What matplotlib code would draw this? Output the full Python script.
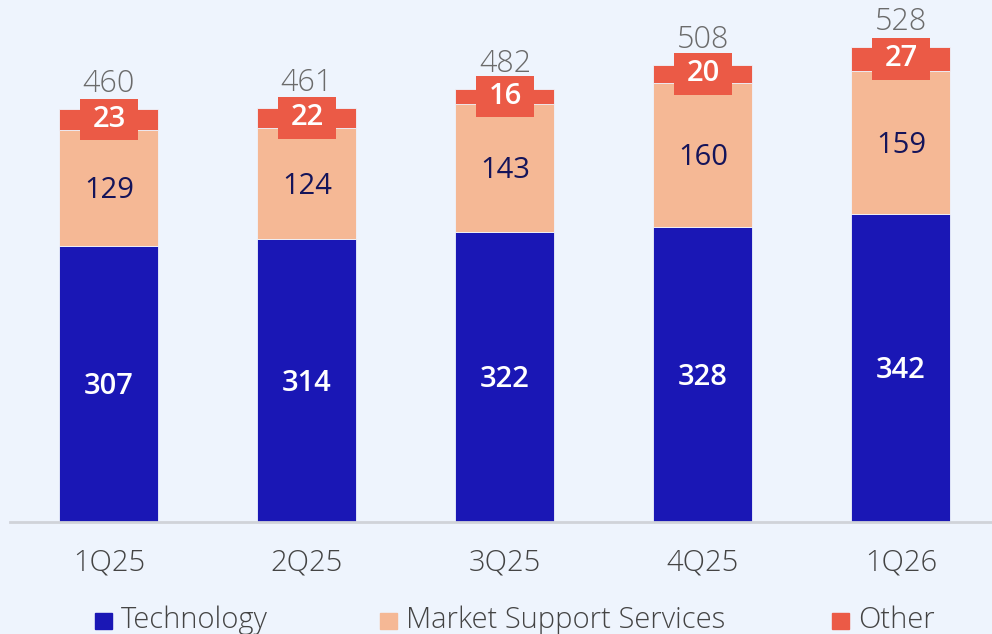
import matplotlib
matplotlib.use("Agg")
import matplotlib.pyplot as plt
from matplotlib.patches import Rectangle
import numpy as np

quarters = ["1Q25", "2Q25", "3Q25", "4Q25", "1Q26"]
technology = [307, 314, 322, 328, 342]
market_support = [129, 124, 143, 160, 159]
other = [23, 22, 16, 20, 27]
totals = [460, 461, 482, 508, 528]
series_names = ["Technology", "Market Support Services", "Other"]

BG = "#EEF4FD"
BLUE = "#1A17B5"
PEACH = "#F5B895"
RED = "#EB5A46"
NAVY = "#14145A"
GREY = "#6B6B6B"

plt.rcParams["font.family"] = ["Open Sans", "DejaVu Sans"]

fig = plt.figure(figsize=(9.92, 6.34), dpi=100, facecolor=BG)
ax = fig.add_axes([10 / 992, 1 - 522 / 634, 982 / 992, 522 / 634])
ax.set_facecolor(BG)

x = np.arange(len(quarters))
w = 0.5
tech = np.array(technology)
msup = np.array(market_support)
oth = np.array(other)

ax.bar(x, tech, width=w, color=BLUE, edgecolor=BG, linewidth=0.6)
ax.bar(x, msup, bottom=tech, width=w, color=PEACH, edgecolor=BG, linewidth=0.6)
ax.bar(x, oth, bottom=tech + msup, width=w, color=RED, edgecolor=BG, linewidth=0.6)

# red label boxes sitting on the "Other" segment
box_h = 46
mid_other = tech + msup + oth / 2
ax.bar(x, box_h, bottom=mid_other - box_h / 2, width=0.29, color=RED, zorder=3)

for i in range(len(quarters)):
    ax.text(x[i], tech[i] / 2 - 3, str(technology[i]), ha="center", va="center",
            color="white", fontsize=21, fontweight="semibold")
    ax.text(x[i], tech[i] + msup[i] / 2 - 3, str(market_support[i]), ha="center",
            va="center", color=NAVY, fontsize=21)
    ax.text(x[i], mid_other[i], str(other[i]), ha="center", va="center",
            color="white", fontsize=21, fontweight="semibold", zorder=4)
    ax.annotate(str(totals[i]), (x[i], tech[i] + msup[i] + oth[i]),
                xytext=(0, 6.5), textcoords="offset points", ha="center",
                va="bottom", color=GREY, fontsize=22, fontweight="light")

ax.set_xlim(-0.5, 4.46)
ax.set_ylim(0, 580)
ax.set_xticks(x)
ax.set_xticklabels(quarters, fontsize=21, color="#444444", fontweight="light")
ax.tick_params(axis="x", length=0, pad=19)
ax.set_yticks([])
for s in ["top", "right", "left"]:
    ax.spines[s].set_visible(False)
ax.spines["bottom"].set_color("#D0D3D9")
ax.spines["bottom"].set_linewidth(2)

# legend along the bottom
colors = [BLUE, PEACH, RED]
leg_x = [95, 380, 832]
for name, c, lx in zip(series_names, colors, leg_x):
    fig.patches.append(Rectangle((lx / 992, 1 - 629 / 634), 17 / 992, 16 / 634,
                                 transform=fig.transFigure, color=c))
    fig.text((lx + 26) / 992, 1 - 620 / 634, name, ha="left", va="center",
             fontsize=21, color="#444444", fontweight="light")

fig.savefig("out.png", dpi=100, facecolor=BG)
